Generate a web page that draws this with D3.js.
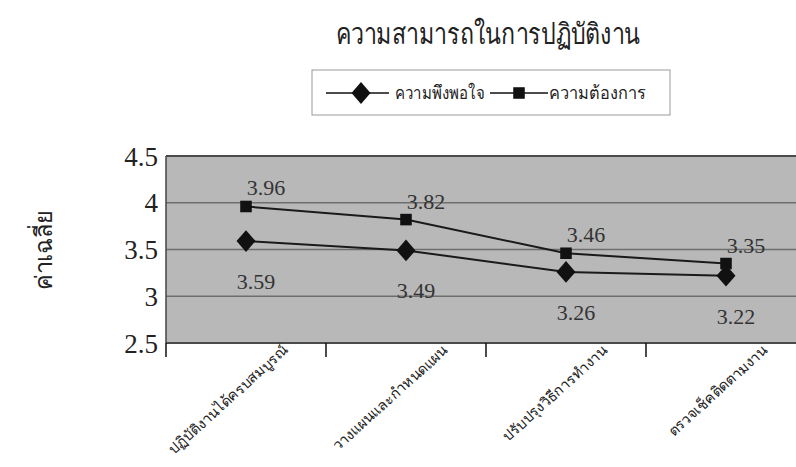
<!DOCTYPE html>
<html>
<head>
<meta charset="utf-8">
<script src="https://cdn.jsdelivr.net/npm/d3@7"></script>
<style>
  body { margin: 0; background: #fff; }
  svg text { font-family: "Liberation Serif", "DejaVu Serif", serif; }
  .thai { font-family: "Noto Sans", "DejaVu Sans", sans-serif; }
</style>
</head>
<body>
<svg id="chart" width="796" height="467"></svg>
<script>
// data
var categories = ["ปฏิบัติงานได้ครบสมบูรณ์", "วางแผนและกำหนดแผน", "ปรับปรุงวิธีการทำงาน", "ตรวจเช็คติดตามงาน"];
var satisfaction = [3.59, 3.49, 3.26, 3.22];   // ความพึงพอใจ (diamond)
var need = [3.96, 3.82, 3.46, 3.35];           // ความต้องการ (square)
var yTicks = [2.5, 3, 3.5, 4, 4.5];
var seriesNames = ["ความพึงพอใจ", "ความต้องการ"];

var svg = d3.select("#chart"),
    width = +svg.attr("width"),
    height = +svg.attr("height");

var x = d3.scaleBand()
    .domain(categories)
    .range([166, 806])
    .padding(0);

var y = d3.scaleLinear()
    .domain([2.5, 4.5])
    .range([343, 156]);

// plot area
svg.append("rect")
    .attr("x", x.range()[0])
    .attr("y", y(4.5))
    .attr("width", x.range()[1] - x.range()[0])
    .attr("height", y(2.5) - y(4.5))
    .attr("fill", "#b8b8b8");

// grid lines
svg.append("g")
  .selectAll("line")
  .data(yTicks)
  .enter()
  .append("line")
    .attr("x1", x.range()[0])
    .attr("x2", x.range()[1])
    .attr("y1", function(d){ return y(d) })
    .attr("y2", function(d){ return y(d) })
    .attr("stroke", function(d){ return (d == 4.5 || d == 2.5) ? "#4a4a4a" : "#6e6e6e" })
    .attr("stroke-width", function(d){ return (d == 4.5 || d == 2.5) ? 2 : 1.5 });

// left axis line
svg.append("line")
    .attr("x1", x.range()[0]).attr("x2", x.range()[0])
    .attr("y1", y(4.5)).attr("y2", y(2.5))
    .attr("stroke", "#444").attr("stroke-width", 1.5);

// y tick labels
svg.append("g")
  .selectAll("text")
  .data(yTicks)
  .enter()
  .append("text")
    .attr("x", 158)
    .attr("y", function(d){ return y(d) })
    .attr("dy", "0.36em")
    .attr("text-anchor", "end")
    .style("font-size", "27px")
    .style("fill", "#222")
    .text(function(d){ return d });

// x ticks (category boundaries)
svg.append("g")
  .selectAll("line")
  .data(categories)
  .enter()
  .append("line")
    .attr("x1", function(d){ return x(d) })
    .attr("x2", function(d){ return x(d) })
    .attr("y1", y(2.5))
    .attr("y2", y(2.5) + 14)
    .attr("stroke", "#111")
    .attr("stroke-width", 1.5);

// x labels, rotated
svg.append("g")
  .selectAll("text")
  .data(categories)
  .enter()
  .append("text")
    .attr("class", "thai")
    .attr("text-anchor", "end")
    .attr("transform", function(d){
      return "translate(" + (x(d) + x.bandwidth()/2 + 36) + "," + 344 + ") rotate(-42)";
    })
    .attr("dy", "0.7em")
    .style("font-size", "14.5px")
    .style("fill", "#222")
    .text(function(d){ return d });

var cx = function(d, i){ return x(categories[i]) + x.bandwidth()/2 };

var line = d3.line()
    .x(cx)
    .y(function(d){ return y(d) });

// lines
svg.append("path")
    .datum(need)
    .attr("d", line)
    .attr("fill", "none")
    .attr("stroke", "#1a1a1a")
    .attr("stroke-width", 2);

svg.append("path")
    .datum(satisfaction)
    .attr("d", line)
    .attr("fill", "none")
    .attr("stroke", "#1a1a1a")
    .attr("stroke-width", 2);

// markers
var diamond = d3.symbol().type(d3.symbolDiamond2).size(230);
var square = d3.symbol().type(d3.symbolSquare2).size(170);

svg.append("g")
  .selectAll("path")
  .data(satisfaction)
  .enter()
  .append("path")
    .attr("d", diamond)
    .attr("transform", function(d, i){ return "translate(" + cx(d, i) + "," + y(d) + ") scale(1,1.15)" })
    .attr("fill", "#111");

svg.append("g")
  .selectAll("path")
  .data(need)
  .enter()
  .append("path")
    .attr("d", square)
    .attr("transform", function(d, i){ return "translate(" + cx(d, i) + "," + y(d) + ")" })
    .attr("fill", "#111");

// value labels
svg.append("g")
  .selectAll("text")
  .data(need)
  .enter()
  .append("text")
    .attr("x", function(d, i){ return cx(d, i) + 20 })
    .attr("y", function(d){ return y(d) - 11 })
    .attr("text-anchor", "middle")
    .style("font-size", "22px")
    .style("fill", "#333")
    .text(function(d){ return d3.format(".2f")(d) });

svg.append("g")
  .selectAll("text")
  .data(satisfaction)
  .enter()
  .append("text")
    .attr("x", function(d, i){ return cx(d, i) + 10 })
    .attr("y", function(d){ return y(d) + 48 })
    .attr("text-anchor", "middle")
    .style("font-size", "22px")
    .style("fill", "#333")
    .text(function(d){ return d3.format(".2f")(d) });

// title
svg.append("text")
    .attr("class", "thai")
    .attr("x", 488)
    .attr("y", 44)
    .attr("text-anchor", "middle")
    .attr("textLength", 305)
    .attr("lengthAdjust", "spacingAndGlyphs")
    .style("font-size", "29px")
    .style("fill", "#222")
    .text("ความสามารถในการปฏิบัติงาน");

// y title
svg.append("text")
    .attr("class", "thai")
    .attr("transform", "translate(52,250) rotate(-90)")
    .attr("text-anchor", "middle")
    .attr("textLength", 80)
    .attr("lengthAdjust", "spacingAndGlyphs")
    .style("font-size", "24px")
    .style("fill", "#222")
    .text("ค่าเฉลี่ย");

// legend
var legend = svg.append("g");
legend.append("rect")
    .attr("x", 312).attr("y", 70)
    .attr("width", 358).attr("height", 45)
    .attr("fill", "none")
    .attr("stroke", "#999")
    .attr("stroke-width", 1);

legend.append("line")
    .attr("x1", 326).attr("x2", 389).attr("y1", 93).attr("y2", 93)
    .attr("stroke", "#111").attr("stroke-width", 1.5);
legend.append("path")
    .attr("d", diamond)
    .attr("transform", "translate(361,93) scale(1,1.15)")
    .attr("fill", "#111");
legend.append("text")
    .attr("class", "thai")
    .attr("x", 395).attr("y", 93).attr("dy", "0.35em")
    .attr("textLength", 90)
    .attr("lengthAdjust", "spacingAndGlyphs")
    .style("font-size", "18px").style("fill", "#222")
    .text(seriesNames[0]);

legend.append("line")
    .attr("x1", 490).attr("x2", 548).attr("y1", 93).attr("y2", 93)
    .attr("stroke", "#111").attr("stroke-width", 1.5);
legend.append("path")
    .attr("d", square)
    .attr("transform", "translate(519,93)")
    .attr("fill", "#111");
legend.append("text")
    .attr("class", "thai")
    .attr("x", 549).attr("y", 93).attr("dy", "0.35em")
    .attr("textLength", 97)
    .attr("lengthAdjust", "spacingAndGlyphs")
    .style("font-size", "18px").style("fill", "#222")
    .text(seriesNames[1]);
</script>
</body>
</html>
